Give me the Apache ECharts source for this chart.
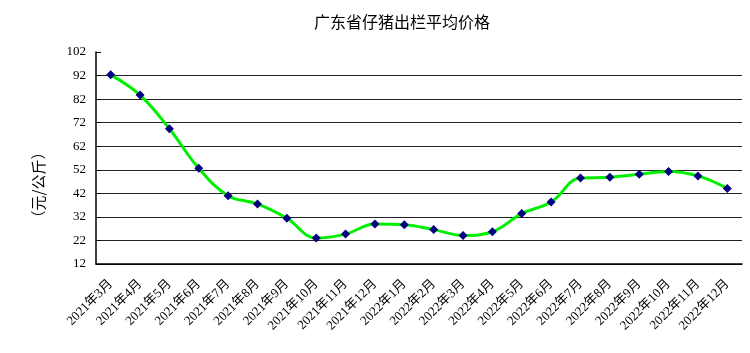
<!DOCTYPE html>
<html>
<head>
<meta charset="utf-8">
<script src="https://cdn.jsdelivr.net/npm/echarts@6/dist/echarts.min.js"></script>
<style>
html, body { margin: 0; padding: 0; background: #fff; }
#chart { width: 750px; height: 353px; }
</style>
</head>
<body>
<div id="chart"></div>
<script>
// 月份
const months = ['2021年3月', '2021年4月', '2021年5月', '2021年6月', '2021年7月', '2021年8月',
	'2021年9月', '2021年10月', '2021年11月', '2021年12月', '2022年1月', '2022年2月',
	'2022年3月', '2022年4月', '2022年5月', '2022年6月', '2022年7月', '2022年8月',
	'2022年9月', '2022年10月', '2022年11月', '2022年12月'];
// 平均价格（元/公斤）
const prices = [92.3, 83.7, 69.4, 52.6, 41.0, 37.5, 31.4, 23.0, 24.7, 29.0, 28.7,
	26.6, 24.1, 25.7, 33.4, 38.3, 48.5, 48.8, 50.1, 51.3, 49.4, 44.1];

const serif = "'Liberation Serif', 'Noto Sans CJK SC', serif";

const chart = echarts.init(document.getElementById('chart'));
chart.setOption({
	backgroundColor: '#fff',
	animation: false,
	title: {
		text: '广东省仔猪出栏平均价格',
		left: 397,
		textAlign: 'center',
		top: 9,
		textStyle: { fontSize: 16, fontWeight: 'normal', color: '#000', fontFamily: "'Noto Sans CJK SC', sans-serif" }
	},
	graphic: [{
		type: 'text',
		x: 38,
		y: 185,
		rotation: Math.PI / 2,
		style: {
			text: '（元/公斤）',
			fill: '#000',
			font: "15px 'Noto Sans CJK SC', sans-serif",
			align: 'center',
			verticalAlign: 'middle'
		}
	}],
	grid: { left: 96, right: 8, top: 52, bottom: 89 },
	xAxis: {
		type: 'category',
		data: months,
		boundaryGap: true,
		axisLine: { lineStyle: { color: '#000', width: 1.5 } },
		axisTick: { inside: true, length: 5, lineStyle: { color: '#000' } },
		axisLabel: {
			rotate: 45,
			interval: 0,
			margin: 18,
			fontSize: 13,
			color: '#000',
			fontFamily: serif
		}
	},
	yAxis: {
		type: 'value',
		min: 12,
		max: 102,
		interval: 10,
		axisLine: { show: true, lineStyle: { color: '#000', width: 1.5 } },
		axisTick: { show: true, inside: true, length: 5, lineStyle: { color: '#000' } },
		axisLabel: { margin: 10, fontSize: 13, color: '#000', fontFamily: serif },
		splitLine: { show: true, showMaxLine: false, lineStyle: { color: '#222', width: 1 } }
	},
	series: [{
		type: 'line',
		data: prices,
		smooth: 0.4,
		symbol: 'diamond',
		symbolSize: 9,
		itemStyle: { color: '#000080' },
		lineStyle: { color: '#00ee00', width: 3 }
	}]
});
</script>
</body>
</html>
